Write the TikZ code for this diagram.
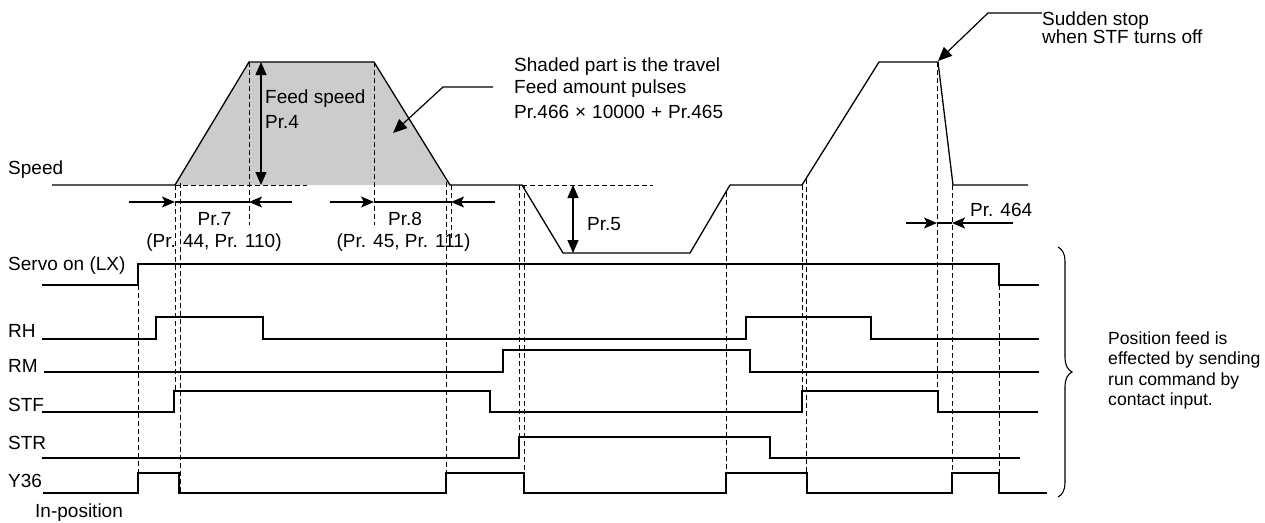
\documentclass[tikz,border=0pt]{standalone}
\usepackage{fontspec}
\setmainfont{Liberation Sans}
\usetikzlibrary{arrows.meta,decorations.pathreplacing}
\begin{document}
\begin{tikzpicture}[x=1pt,y=-1pt,
  sig/.style={line width=1.3pt, line join=miter},
  dsh/.style={line width=0.9pt, dash pattern=on 5pt off 3pt},
  lbl/.style={anchor=base west, inner sep=0pt, font=\fontsize{19}{21}\selectfont},
  slbl/.style={anchor=base west, inner sep=0pt, font=\fontsize{17.6}{20}\selectfont},
  clbl/.style={anchor=base, inner sep=0pt, font=\fontsize{19}{21}\selectfont},
  tipS/.style={line width=1.2pt, -{Stealth[length=13pt,width=11pt,inset=3pt]}},
  dimline/.style={line width=1.2pt},
  vdim/.style={line width=1.2pt, {Triangle[length=13pt,width=11pt]}-{Triangle[length=13pt,width=11pt]}},
  lead/.style={line width=1.2pt, -{Triangle[length=14pt,width=12pt]}}
]
\useasboundingbox (0,0) rectangle (1265,522);

% shaded travel area
\fill[gray!40] (175,185) -- (249,62) -- (374,62) -- (450,185) -- cycle;

% dashed guide lines
\draw[dsh] (175,185) -- (307,185);
\draw[dsh] (522,185) -- (653,185);
\draw[dsh] (138,285) -- (138,473);
\draw[dsh] (175,185) -- (175,391);
\draw[dsh] (180,183) -- (180,493);
\draw[dsh] (249,62) -- (249,225);
\draw[dsh] (374,62) -- (374,225);
\draw[dsh] (446,182) -- (446,473);
\draw[dsh] (451,185) -- (451,240);
\draw[dsh] (519,185) -- (519,437);
\draw[dsh] (524,185) -- (524,493);
\draw[dsh] (726,192) -- (726,473);
\draw[dsh] (802,185) -- (802,391);
\draw[dsh] (806,179) -- (806,493);
\draw[dsh] (937,62) -- (937,391);
\draw[dsh] (952,185) -- (952,473);
\draw[dsh] (999,285) -- (999,473);

% speed curve
\draw[sig] (52,185) -- (175,185) -- (249,62) -- (374,62) -- (450,185) -- (522,185)
  -- (563,253) -- (690,253) -- (730,185) -- (802,185) -- (879,62) -- (938,62)
  -- (953,185) -- (1028,185);

% signals
\draw[sig] (42,285) -- (138,285) -- (138,264) -- (999,264) -- (999,285) -- (1039,285);
\draw[sig] (42,339) -- (156,339) -- (156,317) -- (263,317) -- (263,339) -- (746,339)
  -- (746,317) -- (871,317) -- (871,339) -- (1039,339);
\draw[sig] (44,372) -- (503,372) -- (503,350) -- (750,350) -- (750,372) -- (1039,372);
\draw[sig] (42,412) -- (174,412) -- (174,391) -- (490,391) -- (490,412) -- (802,412)
  -- (802,391) -- (938,391) -- (938,412) -- (1038,412);
\draw[sig] (42,458) -- (519,458) -- (519,437) -- (770,437) -- (770,458) -- (1020,458);
\draw[sig] (43,493) -- (138,493) -- (138,473) -- (179,473) -- (179,493) -- (446,493)
  -- (446,473) -- (524,473) -- (524,493) -- (726,493) -- (726,473) -- (807,473)
  -- (807,493) -- (952,493) -- (952,473) -- (999,473) -- (999,493) -- (1047,493);

% dimension arrows
\draw[vdim] (261,62) -- (261,185);
\draw[vdim] (573,185) -- (573,253);

\draw[tipS] (129,202) -- (175,202);
\draw[tipS] (292,202) -- (249,202);
\draw[dimline] (175,202) -- (249,202);

\draw[tipS] (330,202) -- (374,202);
\draw[tipS] (495,202) -- (451,202);
\draw[dimline] (374,202) -- (451,202);

\draw[tipS] (906,223) -- (937,223);
\draw[tipS] (1013,223) -- (952,223);
\draw[dimline] (937,223) -- (952,223);

% labels
\node[lbl] (speed) at (8,174) {Speed};
\node[lbl] (servo) at (8,270) {Servo on (LX)};
\node[lbl] (rh) at (8,337) {RH};
\node[lbl] (rm) at (8,372) {RM};
\node[lbl] (stf) at (8,411) {STF};
\node[lbl] (str) at (8,449) {STR};
\node[lbl] (y36) at (8,487) {Y36};
\node[lbl] (inpos) at (35,517) {In-position};

\node[lbl] (feed1) at (265,103) {Feed speed};
\node[lbl] (feed2) at (265,128) {Pr.4};

\node[clbl] (pr7) at (214.5,225) {Pr.7};
\node[clbl] (pr7b) at (214,247) {(Pr. 44, Pr. 110)};
\node[clbl] (pr8) at (405,225) {Pr.8};
\node[clbl] (pr8b) at (403.5,247) {(Pr. 45, Pr. 111)};
\node[lbl] (pr5) at (587,230) {Pr.5};
\node[lbl] (pr464) at (970,216) {Pr. 464};

\node[lbl] (sh1) at (514,71) {Shaded part is the travel};
\node[lbl] (sh2) at (514,93) {Feed amount pulses};
\node[lbl] (sh3) at (514,118) {Pr.466\hspace{6pt}×\hspace{6pt}10000\hspace{6pt}+\hspace{6pt}Pr.465};

\node[lbl] (ss1) at (1042,25) {Sudden stop};
\node[lbl] (ss2) at (1042,43) {when STF turns off};

\node[slbl] (pf1) at (1108,344) {Position feed is};
\node[slbl] (pf2) at (1108,364) {effected by sending};
\node[slbl] (pf3) at (1108,385) {run command by};
\node[slbl] (pf4) at (1108,405) {contact input.};

% leaders
\coordinate (shA) at (493,87);
\coordinate (shB) at (443,87);
\coordinate (shT) at (393,133);
\draw[lead] (shA) -- (shB) -- (shT);
\coordinate (ssA) at (1042,13);
\coordinate (ssB) at (988,13);
\coordinate (ssT) at (938,61);
\draw[lead] (ssA) -- (ssB) -- (ssT);

% brace
\draw[line width=1.1pt, decorate, decoration={brace, amplitude=14pt}] (1058,247) -- (1058,497);
\end{tikzpicture}
\end{document}
